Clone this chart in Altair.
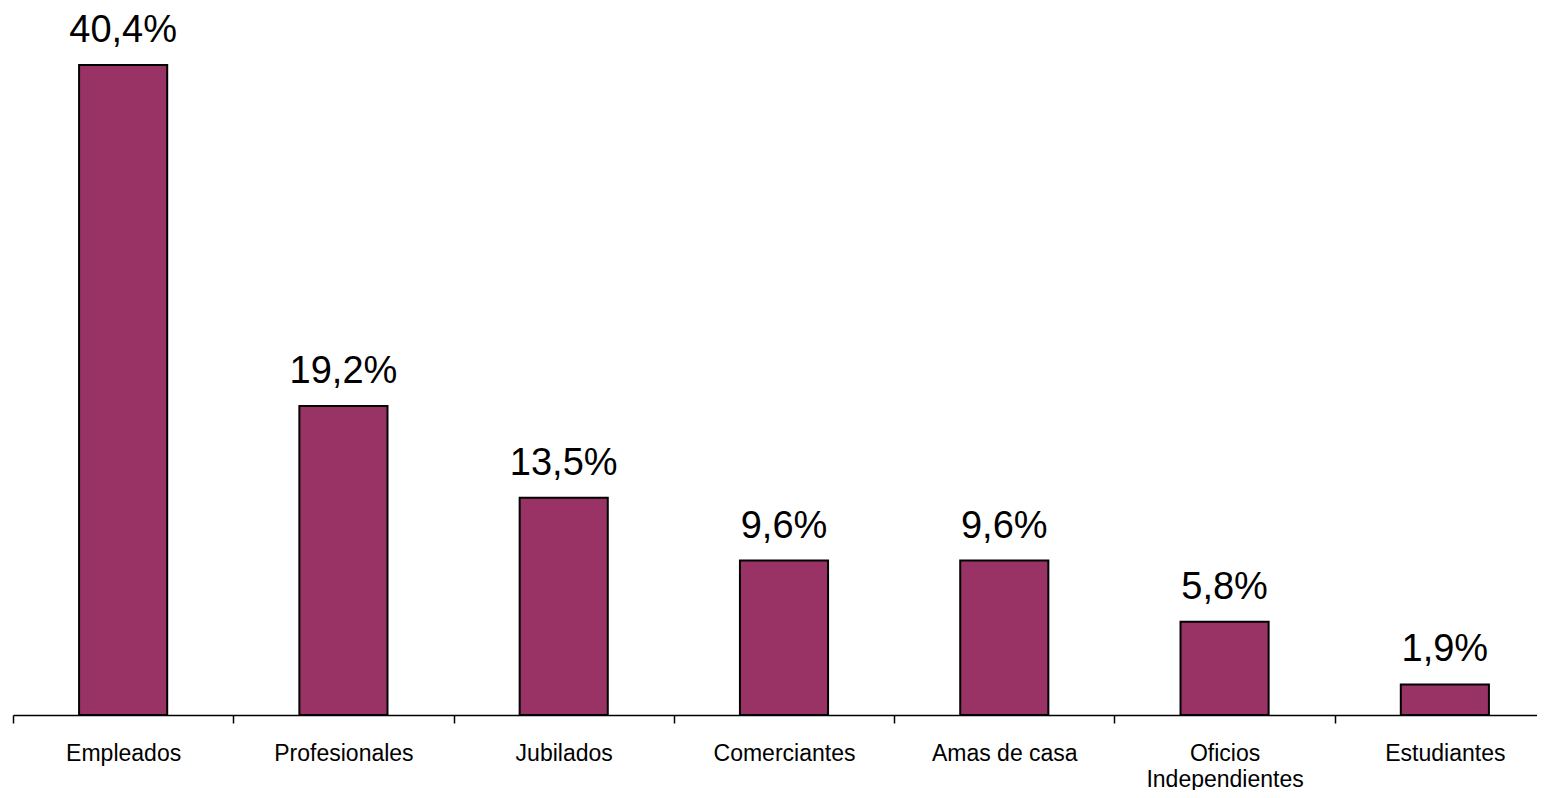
import altair as alt
import pandas as pd

categories = ["Empleados", "Profesionales", "Jubilados", "Comerciantes",
              "Amas de casa", "Oficios Independientes", "Estudiantes"]
values = [40.4, 19.2, 13.5, 9.6, 9.6, 5.8, 1.9]

df = pd.DataFrame({"cat": categories, "v": values})

FONT = "Liberation Sans"

x = alt.X(
    "cat:N",
    sort=categories,
    title=None,
    scale=alt.Scale(paddingInner=0, paddingOuter=0),
    axis=alt.Axis(
        labelAngle=0,
        labelFont=FONT,
        labelFontSize=23,
        labelColor="#000000",
        labelPadding=19,
        labelLineHeight=26,
        labelExpr="datum.label == 'Oficios Independientes' ? ['Oficios', 'Independientes'] : datum.label",
        tickBand="extent",
        tickSize=8,
        tickColor="#000000",
        tickWidth=1.5,
        domainColor="#000000",
        domainWidth=1.5,
        grid=False,
    ),
)
y = alt.Y("v:Q", scale=alt.Scale(domain=[0, 43.94]), axis=None)

bars = alt.Chart(df).mark_bar(
    color="#993366", stroke="#000000", strokeWidth=2,
    width=alt.RelativeBandSize(0.4),
).encode(x=x, y=y)

labels = alt.Chart(df).transform_calculate(
    lab="replace(format(datum.v, '.1f'), '.', ',') + '%'"
).mark_text(
    font=FONT, fontSize=38, baseline="alphabetic", dy=-23, color="#000000"
).encode(x=x, y=y, text="lab:N")

chart = (bars + labels).properties(
    width=1542, height=707,
    background="#ffffff",
    autosize=alt.AutoSizeParams(type="none"),
    padding={"left": 5, "right": -18, "top": 0, "bottom": 75},
).configure_view(strokeWidth=0, stroke="transparent")

chart.save("out.html", embed_options={"renderer": "svg", "actions": False})
